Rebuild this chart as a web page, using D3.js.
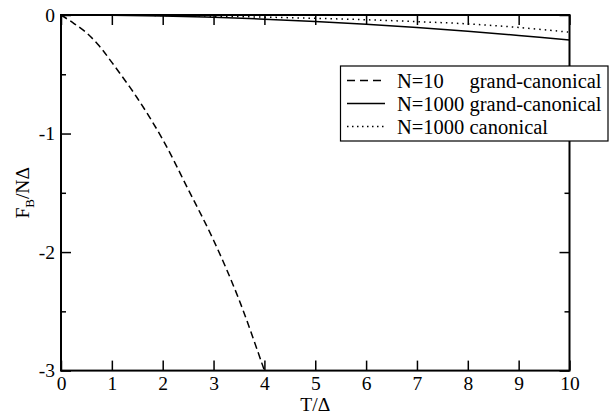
<!DOCTYPE html>
<html>
<head>
<meta charset="utf-8">
<script src="https://cdn.jsdelivr.net/npm/d3@7"></script>
<style>
  body { margin: 0; background: #fff; }
</style>
</head>
<body>
<svg id="chart"></svg>
<script>
// chart data
const tN10 = [0, 0.25, 0.5, 0.75, 1, 1.5, 2, 2.5, 3, 3.5, 4];
const fN10 = [0, -0.07, -0.15, -0.26, -0.40, -0.70, -1.05, -1.47, -1.90, -2.40, -3.0];
const tN1000 = [0, 1, 2, 3, 4, 5, 6, 7, 8, 9, 10];
const fN1000gc = [0, -0.002, -0.008, -0.02, -0.035, -0.055, -0.078, -0.105, -0.137, -0.172, -0.21];
const fN1000c = [0, -0.001, -0.004, -0.01, -0.018, -0.028, -0.04, -0.056, -0.075, -0.105, -0.145];
const xTicks = [0, 1, 2, 3, 4, 5, 6, 7, 8, 9, 10];
const yTicks = [0, -1, -2, -3];
const yMinor = [-0.5, -1.5, -2.5];
const legendLabels = [["N=10", "grand-canonical"], ["N=1000", "grand-canonical"], ["N=1000", "canonical"]];

const width = 611;
const height = 418;
const mLeft = 61, mRight = 569.5, mTop = 15, mBottom = 370.6;
const serif = 'Liberation Serif';

const svg = d3.select('#chart')
    .attr('width', width)
    .attr('height', height);

const x = d3.scaleLinear().domain([0, 10]).range([mLeft, mRight]);
const y = d3.scaleLinear().domain([-3, 0]).range([mBottom, mTop]);

// curves
const line = d3.line().x(d => x(d[0])).y(d => y(d[1])).curve(d3.curveCatmullRom);

const series = [
    {t: tN10, f: fN10, dash: '7,4'},
    {t: tN1000, f: fN1000gc, dash: null},
    {t: tN1000, f: fN1000c, dash: '1.5,4'}
];

series.forEach(function(s) {
    svg.append('path')
        .attr('d', line(s.t.map((t, i) => [t, s.f[i]])))
        .attr('fill', 'none')
        .attr('stroke', 'black')
        .attr('stroke-width', 1.5)
        .attr('stroke-dasharray', s.dash);
});

// axes, ticks pointing inward on all four sides
function styleAxis(g) {
    g.attr('font-family', serif).attr('font-size', 19.5);
    g.select('.domain').remove();
    g.selectAll('.tick line').attr('stroke', 'black').attr('stroke-width', 1.5);
    g.selectAll('.tick text').attr('fill', 'black');
}

svg.append('g')
    .attr('transform', `translate(0,${mBottom})`)
    .call(d3.axisBottom(x).tickValues(xTicks).tickSize(-10).tickPadding(6).tickFormat(d3.format('d')))
    .call(styleAxis);

svg.append('g')
    .attr('transform', `translate(0,${mTop})`)
    .call(d3.axisTop(x).tickValues(xTicks).tickSize(-10).tickFormat(''))
    .call(styleAxis);

svg.append('g')
    .attr('transform', `translate(${mLeft},0)`)
    .call(d3.axisLeft(y).tickValues(yTicks).tickSize(-10).tickPadding(6).tickFormat(d => String(d)))
    .call(styleAxis);

svg.append('g')
    .attr('transform', `translate(${mLeft},0)`)
    .call(d3.axisLeft(y).tickValues(yMinor).tickSize(-5).tickFormat(''))
    .call(styleAxis);

svg.append('g')
    .attr('transform', `translate(${mRight},0)`)
    .call(d3.axisRight(y).tickValues(yTicks).tickSize(-10).tickFormat(''))
    .call(styleAxis);

svg.append('g')
    .attr('transform', `translate(${mRight},0)`)
    .call(d3.axisRight(y).tickValues(yMinor).tickSize(-5).tickFormat(''))
    .call(styleAxis);

// frame
svg.append('rect')
    .attr('x', mLeft).attr('y', mTop)
    .attr('width', mRight - mLeft).attr('height', mBottom - mTop)
    .attr('fill', 'none').attr('stroke', 'black').attr('stroke-width', 2);

// axis labels
svg.append('text')
    .attr('x', (mLeft + mRight) / 2).attr('y', 411)
    .attr('text-anchor', 'middle')
    .attr('font-family', serif)
    .attr('font-size', 19.5)
    .text('T/Δ');

const yLab = svg.append('text')
    .attr('transform', `translate(29,${(mTop + mBottom) / 2}) rotate(-90)`)
    .attr('text-anchor', 'middle')
    .attr('font-family', serif)
    .attr('font-size', 19.5);
yLab.append('tspan').text('F');
yLab.append('tspan').attr('dy', 5).attr('font-size', 13).text('B');
yLab.append('tspan').attr('dy', -5).text('/NΔ');

// legend, sticks out past the right axis like the original
const legend = svg.append('g');
legend.append('rect')
    .attr('x', 340.5).attr('y', 66)
    .attr('width', 608 - 340.5).attr('height', 75)
    .attr('fill', 'white').attr('stroke', 'black').attr('stroke-width', 1.2);

legendLabels.forEach(function(lab, i) {
    const ry = 80.5 + i * 23;
    legend.append('line')
        .attr('x1', 347).attr('x2', 385)
        .attr('y1', ry).attr('y2', ry)
        .attr('stroke', 'black')
        .attr('stroke-width', 1.5)
        .attr('stroke-dasharray', i === 0 ? '8,5' : (i === 2 ? '1.5,3.5' : null));
    legend.append('text')
        .attr('x', 397).attr('y', ry + 7)
        .attr('font-family', serif)
        .attr('font-size', 20.5)
        .text(lab[0]);
    legend.append('text')
        .attr('x', 469.5).attr('y', ry + 7)
        .attr('font-family', serif)
        .attr('font-size', 20.5)
        .text(lab[1]);
});
</script>
</body>
</html>
